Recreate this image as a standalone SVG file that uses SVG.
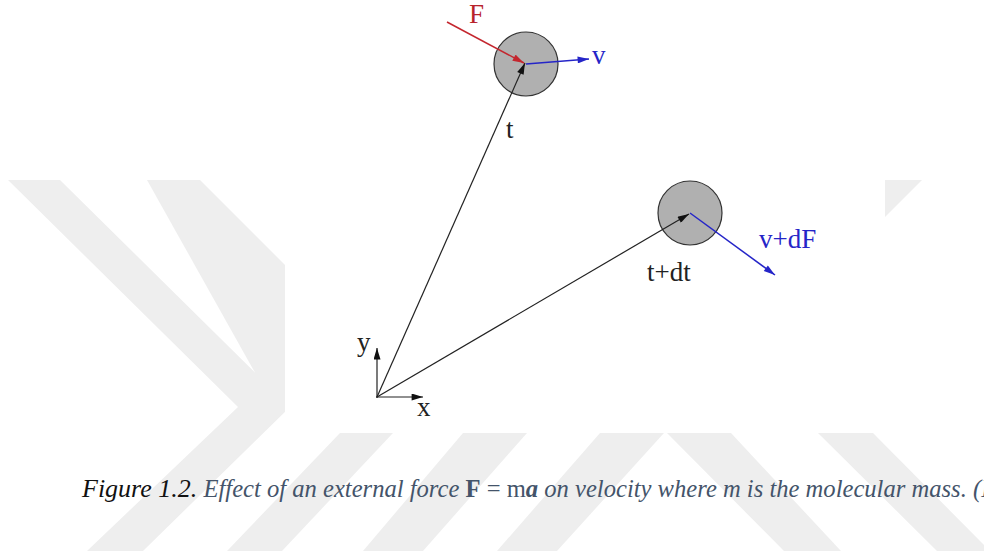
<svg xmlns="http://www.w3.org/2000/svg" width="984" height="558" viewBox="0 0 984 558">
<style>
.wm{fill:#eeeeee}
.vec{fill:none;stroke-width:1.2}
.blk{stroke:#222}
.red{stroke:#c4262e;stroke-width:1.5}
.blu{stroke:#2525c8;stroke-width:1.5}
.lbl{font-family:"Liberation Serif","Times New Roman",serif;font-size:27px}
.cap{font-family:"Liberation Serif","Times New Roman",serif;font-style:italic}
</style>
<defs>
<marker id="ahK" viewBox="0 0 13 8" refX="13" refY="4" markerWidth="13" markerHeight="7" markerUnits="userSpaceOnUse" orient="auto"><path d="M0,0 L13,4 L0,8 Z" fill="#111"/></marker>
<marker id="ahR" viewBox="0 0 13 8" refX="13" refY="4" markerWidth="13" markerHeight="7" markerUnits="userSpaceOnUse" orient="auto"><path d="M0,0 L13,4 L0,8 Z" fill="#c4262e"/></marker>
<marker id="ahB" viewBox="0 0 13 8" refX="13" refY="4" markerWidth="13" markerHeight="7" markerUnits="userSpaceOnUse" orient="auto"><path d="M0,0 L13,4 L0,8 Z" fill="#2525c8"/></marker>
</defs>
<rect width="984" height="558" fill="#ffffff"/>
<g id="watermark">
<polygon class="wm" points="8,180 60,180 290,407 143,551 87,551 238,407"/>
<polygon class="wm" points="147,180 200,180 285,265 285,405 258,378"/>
<polygon class="wm" points="885,180 922,180 885,217"/>
<polygon class="wm" points="340,433 393,433 282,551 227,551"/>
<polygon class="wm" points="463,433 527,433 423,551 363,551"/>
<polygon class="wm" points="600,433 664,433 557,551 497,551"/>
<polygon class="wm" points="667,433 731,433 841,551 784,551"/>
<polygon class="wm" points="818,433 873,433 990,551 937,551"/>
<rect x="285" y="0" width="600" height="433" fill="#ffffff"/>
</g>
<g id="particle-t">
<circle cx="526" cy="64" r="32" fill="#b0b0b0" stroke="#333" stroke-width="1.2"/>
</g>
<g id="particle-tdt">
<circle cx="690" cy="213" r="32" fill="#b0b0b0" stroke="#333" stroke-width="1.2"/>
</g>
<g id="connectors">
<line class="vec blk" x1="377" y1="397" x2="525" y2="63" marker-end="url(#ahK)"/>
<line class="vec blk" x1="377" y1="397" x2="689" y2="214" marker-end="url(#ahK)"/>
<line class="vec red" x1="447" y1="22" x2="524" y2="63" marker-end="url(#ahR)"/>
<line class="vec blu" x1="526" y1="64" x2="589" y2="59" marker-end="url(#ahB)"/>
<line class="vec blu" x1="690" y1="213" x2="775" y2="275" marker-end="url(#ahB)"/>
</g>
<g id="axes">
<line class="vec blk" x1="377" y1="398" x2="377" y2="348" stroke-width="1.5" marker-end="url(#ahK)"/>
<line class="vec blk" x1="376" y1="397" x2="423" y2="397" stroke-width="1.5" marker-end="url(#ahK)"/>
<text class="lbl" x="357" y="351" fill="#222" font-size="25">y</text>
<text class="lbl" x="417" y="416" fill="#222" font-size="25">x</text>
</g>
<g id="labels">
<text class="lbl" x="469" y="23" fill="#b8232b" font-size="26">F</text>
<text class="lbl" x="592" y="64" fill="#2525c8">v</text>
<text class="lbl" x="506" y="138" fill="#222">t</text>
<text class="lbl" x="759" y="248" fill="#2525c8">v+dF</text>
<text class="lbl" x="647" y="281" fill="#222">t+dt</text>
</g>
<g id="caption">
<text class="cap" x="82" y="497" font-size="26" fill="#111">Figure 1.2.<tspan font-size="24.6" fill="#44546a"> Effect of an external force </tspan><tspan font-size="24.6" fill="#44546a" font-style="normal" font-weight="bold">F</tspan><tspan font-size="24.6" fill="#44546a" font-style="normal"> = m</tspan><tspan font-size="24.6" fill="#44546a" font-weight="bold">a</tspan><tspan font-size="24.6" fill="#44546a"> on velocity where m is the molecular mass. (I</tspan></text>
</g>
</svg>
